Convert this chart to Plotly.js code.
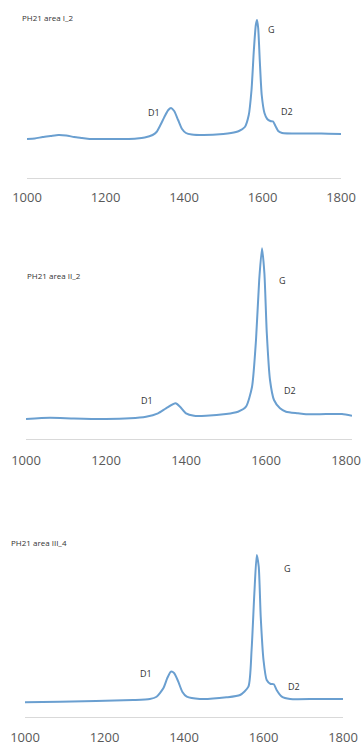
<!DOCTYPE html>
<html>
<head>
<meta charset="utf-8">
<script src="https://cdn.plot.ly/plotly-3.0.1.min.js"></script>
<style>html,body{margin:0;padding:0;background:#fff;}#chart{width:361px;height:745px;}</style>
</head>
<body>
<div id="chart"></div>
<script>
// Raman shift (cm-1) and intensity (arbitrary units) for each spectrum
const shiftI = [1000,1020,1040,1060,1080,1100,1120,1140,1160,1200,1250,1280,1300,1320,1330,1340,1350,1360,1367,1375,1385,1395,1405,1420,1450,1500,1520,1540,1555,1565,1572,1578,1583,1586,1589,1593,1598,1605,1612,1620,1627,1633,1640,1650,1700,1750,1800];
const intensityI = [39,39.5,41,42,43,42.5,41,40,39,39,39,39.5,40.5,43,46,53,61,68,70,67,58,49,45,43.5,43,44,45,47,51,63,88,128,153,158,150,118,83,65,59,57,56.5,52,47,45,44.5,44.5,44];

const shiftII = [1000,1060,1120,1200,1260,1300,1330,1350,1374,1385,1400,1420,1450,1500,1530,1550,1565,1575,1583,1590,1596,1602,1610,1620,1635,1650,1680,1700,1750,1790,1815];
const intensityII = [20,21.3,20.5,20,20.7,22.3,25.7,30.7,35.7,32.3,25.7,23.3,23.3,25,27.3,32.3,52,99,159,190.7,165.7,105.7,59,39,30.7,27.3,25.7,24.7,25,25,23.3];

const shiftIII = [1000,1088,1272,1314,1331,1348,1358,1367,1375,1385,1396,1407,1440,1507,1541,1562,1570,1577,1583,1588,1593,1600,1608,1618,1626,1633,1646,1667,1734,1801];
const intensityIII = [14.7,15.3,17,18,20.3,28.7,39,45.3,44,36,25,20.3,18,19.7,22,30.3,67,123.7,162,150.3,100.3,57,37,33,32.7,27,20.3,18,18,18];

const sampleNames = ["PH21 area I_2", "PH21 area II_2", "PH21 area III_4"];
const bandLabels = ["D1", "G", "D2"];
const xTicks = [1000, 1200, 1400, 1600, 1800];

const W = 361, H = 745;
const px = v => v / W;
const py = v => 1 - v / H;
const lineStyle = {color: '#6a9fd0', width: 2, shape: 'spline', smoothing: 0.6};

const traces = [
  {x: shiftI, y: intensityI, xaxis: 'x', yaxis: 'y', mode: 'lines', line: lineStyle, hoverinfo: 'skip'},
  {x: shiftII, y: intensityII, xaxis: 'x2', yaxis: 'y2', mode: 'lines', line: lineStyle, hoverinfo: 'skip'},
  {x: shiftIII, y: intensityIII, xaxis: 'x3', yaxis: 'y3', mode: 'lines', line: lineStyle, hoverinfo: 'skip'}
];

const xBase = {
  showgrid: false, zeroline: false, showline: true, linecolor: '#d9d9d9', linewidth: 1,
  ticks: '', tickvals: xTicks, ticktext: xTicks.map(String), ticklabelstandoff: 7,
  tickfont: {family: 'Open Sans, Liberation Sans, sans-serif', size: 13, color: '#595959'},
  fixedrange: true
};
const yBase = {visible: false, showgrid: false, zeroline: false, fixedrange: true};

const labelFont = {family: 'Open Sans, Liberation Sans, sans-serif', size: 8, color: '#333333'};
const bandFont = {family: 'Open Sans, Liberation Sans, sans-serif', size: 9, color: '#333333'};
function ann(text, x, y, font) {
  return {text: text, xref: 'paper', yref: 'paper', x: px(x), y: py(y), xanchor: 'left', yanchor: 'middle', showarrow: false, font: font};
}

const layout = {
  width: W, height: H,
  margin: {l: 0, r: 0, t: 0, b: 0},
  paper_bgcolor: '#fff', plot_bgcolor: '#fff',
  showlegend: false,
  xaxis: Object.assign({}, xBase, {domain: [px(27), px(341)], range: [1000, 1800], anchor: 'y'}),
  yaxis: Object.assign({}, yBase, {domain: [py(178), py(15)], range: [0, 163], anchor: 'x'}),
  xaxis2: Object.assign({}, xBase, {domain: [px(26), px(352)], range: [1000, 1815], anchor: 'y2', ticklabelstandoff: 9}),
  yaxis2: Object.assign({}, yBase, {domain: [py(439), py(240)], range: [0, 199], anchor: 'x2'}),
  xaxis3: Object.assign({}, xBase, {domain: [px(25), px(343)], range: [1000, 1800], anchor: 'y3', ticklabelstandoff: 8}),
  yaxis3: Object.assign({}, yBase, {domain: [py(717), py(540)], range: [0, 177], anchor: 'x3'}),
  annotations: [
    ann(sampleNames[0], 20, 17, labelFont),
    ann(bandLabels[0], 146, 113, bandFont),
    ann(bandLabels[1], 266, 30, bandFont),
    ann(bandLabels[2], 279, 112, bandFont),
    ann(sampleNames[1], 25, 275, labelFont),
    ann(bandLabels[0], 139, 400, bandFont),
    ann(bandLabels[1], 277, 280, bandFont),
    ann(bandLabels[2], 282, 390, bandFont),
    ann(sampleNames[2], 9, 542, labelFont),
    ann(bandLabels[0], 138, 673, bandFont),
    ann(bandLabels[1], 282, 568, bandFont),
    ann(bandLabels[2], 286, 686, bandFont)
  ]
};

Plotly.newPlot('chart', traces, layout, {displayModeBar: false, staticPlot: true});
</script>
</body>
</html>
